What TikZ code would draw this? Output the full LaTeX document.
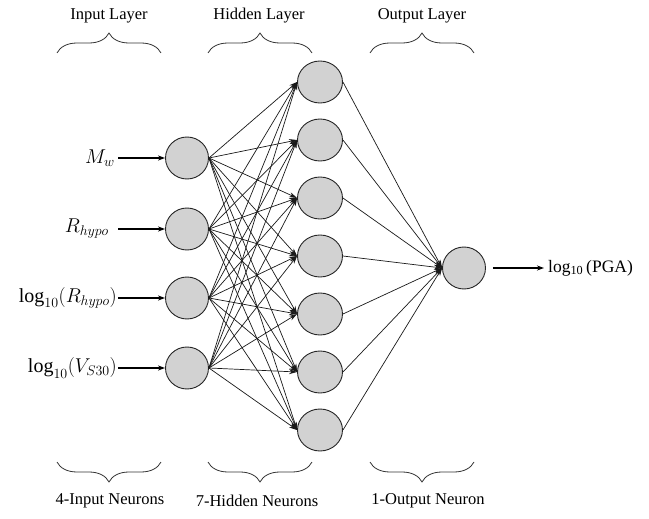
\RequirePackage{fix-cm}
\documentclass[tikz,border=0pt]{standalone}
\usepackage{fontspec}
\setmainfont{Liberation Serif}
\usetikzlibrary{arrows.meta,decorations.pathreplacing,shapes.geometric}
\begin{document}
\begin{tikzpicture}[x=1pt,y=-1pt,
  neuron/.style={ellipse, draw=black!85, fill=gray!35, line width=0.9pt,
                 minimum width=43pt, minimum height=42pt, inner sep=0pt},
  link/.style={line width=0.7pt, draw=black!90, -{Stealth[length=8pt,width=5pt]}},
  feed/.style={line width=1.1pt, -{Stealth[length=7pt,width=5pt]}},
  curly/.style={decorate, decoration={brace, amplitude=20pt}, line width=0.8pt, draw=black!80},
  caption/.style={font=\fontsize{16.5}{19}\selectfont, inner sep=0pt},
  inlabel/.style={anchor=east, font=\fontsize{20}{23}\selectfont, inner sep=3pt},
]
\useasboundingbox (0,0) rectangle (649,519);

% layer titles
\node[caption] (tin)  at (109,16) {Input Layer};
\node[caption] (thid) at (259,16) {Hidden Layer};
\node[caption] (tout) at (422,16) {Output Layer};

% upper braces
\draw[curly] (57,53) -- (161,53);
\draw[curly] (208,53) -- (312,53);
\draw[curly] (370,53) -- (474,53);

% lower braces
\draw[curly] (161,462) -- (57,462);
\draw[curly] (312,462) -- (208,462);
\draw[curly] (474,462) -- (370,462);

% neuron counts
\node[caption] (cin)  at (110,501) {4-Input Neurons};
\node[caption] (chid) at (257,501) {7-Hidden Neurons};
\node[caption] (cout) at (428,501) {1-Output Neuron};

% input neurons
\foreach \i/\y in {1/158,2/229,3/298,4/368}
  \node[neuron] (in\i) at (187,\y) {};

% hidden neurons
\foreach \j in {1,...,7}
  \node[neuron, minimum width=45pt] (hid\j) at (320,{82+58*(\j-1)}) {};

% output neuron
\node[neuron] (out) at (464,268) {};

% input labels
\node[inlabel] (lab1) at (118,158) {$M_w$};
\node[inlabel, inner sep=9pt] (lab2) at (118,229) {$R_{hypo}$};
\node[inlabel, inner sep=1pt] (lab3) at (118,298) {$\log_{10}(R_{hypo})$};
\node[inlabel, inner sep=1pt] (lab4) at (118,368) {$\log_{10}(V_{S30})$};

\foreach \i in {1,...,4}
  \draw[feed] (lab\i.east |- in\i.west) -- (in\i.west);

% input -> hidden
\foreach \i in {1,...,4}
  \foreach \j in {1,...,7}
    \draw[link] (in\i.east) -- (hid\j.west);

% hidden -> output
\foreach \j in {1,...,7}
  \draw[link] (hid\j.east) -- (out.west);

% output
\node[anchor=west, font=\fontsize{17.5}{20}\selectfont, inner sep=4pt] (pga) at (544,268)
  {log\textsubscript{10}\,(PGA)};
\draw[feed, shorten <=7pt] (out.east) -- (pga.west);
\end{tikzpicture}
\end{document}
